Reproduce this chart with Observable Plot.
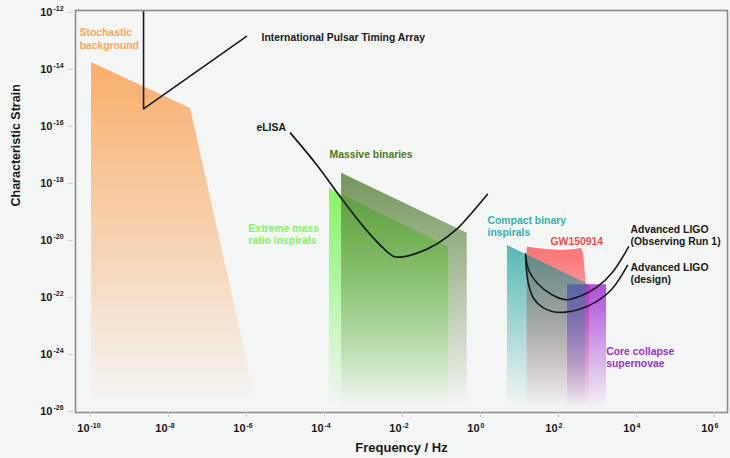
<!DOCTYPE html>
<html><head><meta charset="utf-8">
<script src="https://cdn.jsdelivr.net/npm/d3@7"></script>
<script src="https://cdn.jsdelivr.net/npm/@observablehq/plot@0.6"></script>
<style>
html,body{margin:0;padding:0;background:#f4f5f5;}
</style></head><body><div id="chart"></div>
<script>
// ---- data ----
const floorStrain = 1e-26;
const bgFreq = [1.06e-10, 3.66e-8, 2.03e-6];
const bgStrain = [1.76e-14, 4.28e-16, 1e-26];
const emriFreq = [1.34e-4, 0.154];
const emriStrain = [6.5e-19, 5.8e-21];
const mbFreq = [2.73e-4, 0.456];
const mbStrain = [2.3e-18, 1.8e-20];
const cbFreq = [4.9, 492];
const cbStrain = [6.7e-21, 3.2e-22];
const gwFreq = [15.7, 46.4, 124, 273, 389, 446, 507, 624];
const gwStrain = [5.8e-21, 4.83e-21, 4.46e-21, 4.83e-21, 5.37e-21, 2.98e-21, 3.36e-22, 2.43e-22];
const snFreq = [170, 1700];
const snStrain = [2.8e-22, 2.8e-22];

const iptaFreq = [2.29e-9, 2.29e-9, 1e-6];
const iptaStrain = [1e-11, 4.11e-16, 1.44e-13];
const elisaFreq = [1.34e-5, 6.5e-5, 2.57e-4, 1.02e-3, 3.32e-3, 5.98e-3, 8.89e-3, 0.0238, 0.0776, 0.253, 0.673, 1.49];
const elisaStrain = [5.82e-17, 4.29e-18, 3.3e-19, 2.93e-20, 5.12e-21, 2.75e-21, 2.6e-21, 3.58e-21, 7.66e-21, 2.58e-20, 1.13e-19, 4.11e-19];
const o1Freq = [14.3, 17.3, 29.0, 66.2, 160, 366, 942, 2425, 6237];
const o1Strain = [3.41e-21, 8.85e-22, 3.1e-22, 1.27e-22, 8.3e-23, 1.13e-22, 2.25e-22, 7.73e-22, 5.92e-21];
const designFreq = [14.3, 14.9, 17.3, 23.3, 38.2, 68.9, 151, 332, 889, 2382, 5875];
const designStrain = [2.98e-21, 1.02e-21, 2.64e-22, 9.0e-23, 4.57e-23, 3.23e-23, 3.05e-23, 3.79e-23, 6.84e-23, 2.02e-22, 1.33e-21];

const labelText = ["Stochastic\nbackground", "International Pulsar Timing Array", "eLISA", "Massive binaries",
  "Extreme mass\nratio inspirals", "Compact binary\ninspirals", "GW150914",
  "Advanced LIGO\n(Observing Run 1)", "Advanced LIGO\n(design)", "Core collapse\nsupernovae"];
const labelFreq = [5.22e-11, 2.43e-6, 1.8e-6, 1.34e-4, 1.12e-6, 1.51, 62.4, 7015, 7015, 1670];
const labelStrain = [1.21e-13, 1.33e-13, 9.2e-17, 1.04e-17, 1.66e-20, 3.15e-20, 9.2e-21, 1.56e-20, 7.13e-22, 7.9e-25];
const labelColor = ["#f8a55c", "#1a1a1a", "#1a1a1a", "#4e7a2b", "#86f25c", "#35b0aa", "#f24a4a", "#1a1a1a", "#1a1a1a", "#a12dd4"];

const xTicks = [1e-10, 1e-8, 1e-6, 1e-4, 1e-2, 1e0, 1e2, 1e4, 1e6];
const yTicks = [1e-26, 1e-24, 1e-22, 1e-20, 1e-18, 1e-16, 1e-14, 1e-12];
const xTitle = "Frequency / Hz";
const yTitle = "Characteristic Strain";

// gradient styles: id, colour, opacity at top
const gradients = [
  ["gOrange", "#f9ae6a", 1],
  ["gEmri", "#84f566", 1],
  ["gMb", "#537e33", 0.8],
  ["gRed", "#ff3c3c", 0.7],
  ["gPurple", "#9614d2", 0.75],
  ["gTeal", "#009891", 0.65]
];

// ---- build ----
const area = (fs, hs) => fs.map((f, i) => ({f, h: hs[i], b: floorStrain}));
const pts = (fs, hs) => fs.map((f, i) => ({f, h: hs[i]}));
const labels = labelText.map((t, i) => ({t, f: labelFreq[i], h: labelStrain[i], c: labelColor[i]}));
const exp10 = d => String(Math.round(Math.log10(d)));

function gradientDefs() {
  const ns = "http://www.w3.org/2000/svg";
  const defs = document.createElementNS(ns, "defs");
  for (const [id, color, op] of gradients) {
    const g = document.createElementNS(ns, "linearGradient");
    g.setAttribute("id", id);
    g.setAttribute("x1", "0"); g.setAttribute("x2", "0");
    g.setAttribute("y1", "0"); g.setAttribute("y2", "1");
    for (const [off, o] of [[0, op], [0.98, 0]]) {
      const s = document.createElementNS(ns, "stop");
      s.setAttribute("offset", off);
      s.setAttribute("stop-color", color);
      s.setAttribute("stop-opacity", o);
      g.appendChild(s);
    }
    defs.appendChild(g);
  }
  return defs;
}

const FONT = "'Liberation Sans', Arial, Helvetica, sans-serif";
const INK = "#1a1a1a";

const chart = Plot.plot({
  width: 730, height: 458,
  marginLeft: 75, marginRight: 3, marginTop: 10, marginBottom: 46,
  style: {background: "#f4f5f5", fontFamily: FONT},
  x: {type: "log", domain: [4.12e-11, 2.15e6], axis: null},
  y: {type: "log", domain: [9.2e-27, 1.17e-12], axis: null},
  color: {type: "identity"},
  marks: [
    gradientDefs,
    Plot.areaY(area(bgFreq, bgStrain), {x: "f", y1: "b", y2: "h", fill: "url(#gOrange)"}),
    Plot.areaY(area(emriFreq, emriStrain), {x: "f", y1: "b", y2: "h", fill: "url(#gEmri)"}),
    Plot.areaY(area(mbFreq, mbStrain), {x: "f", y1: "b", y2: "h", fill: "url(#gMb)"}),
    Plot.areaY(area(gwFreq, gwStrain), {x: "f", y1: "b", y2: "h", fill: "url(#gRed)"}),
    Plot.areaY(area(snFreq, snStrain), {x: "f", y1: "b", y2: "h", fill: "url(#gPurple)"}),
    Plot.areaY(area(cbFreq, cbStrain), {x: "f", y1: "b", y2: "h", fill: "url(#gTeal)"}),
    Plot.line(pts(iptaFreq, iptaStrain), {x: "f", y: "h", stroke: INK, strokeWidth: 1.6, clip: true}),
    Plot.line(pts(elisaFreq, elisaStrain), {x: "f", y: "h", stroke: INK, strokeWidth: 1.7, curve: "catmull-rom"}),
    Plot.line(pts(o1Freq, o1Strain), {x: "f", y: "h", stroke: INK, strokeWidth: 1.6, curve: "catmull-rom"}),
    Plot.line(pts(designFreq, designStrain), {x: "f", y: "h", stroke: INK, strokeWidth: 1.6, curve: "catmull-rom"}),
    Plot.frame({stroke: "#8c8c8c", strokeWidth: 1.6}),
    Plot.axisX({ticks: xTicks, tickSize: 5, tickFormat: () => "", stroke: "#c8c8c8", label: null}),
    Plot.axisY({ticks: yTicks, tickSize: 5, tickFormat: () => "", stroke: "#c8c8c8", label: null, dx: -2}),
    Plot.text(xTicks, {x: d => d, text: () => "10", frameAnchor: "bottom", textAnchor: "end", dy: 19, dx: -1,
      fontSize: 11, fontWeight: "bold", fill: INK}),
    Plot.text(xTicks, {x: d => d, text: exp10, frameAnchor: "bottom", textAnchor: "start", dy: 15, dx: 0,
      fontSize: 7, fontWeight: "bold", fill: INK}),
    Plot.text(yTicks, {y: d => d, text: () => "10", frameAnchor: "left", textAnchor: "end", dx: -23,
      fontSize: 11, fontWeight: "bold", fill: INK}),
    Plot.text(yTicks, {y: d => d, text: exp10, frameAnchor: "left", textAnchor: "start", dx: -22, dy: -4,
      fontSize: 7, fontWeight: "bold", fill: INK}),
    Plot.text([xTitle], {text: d => d, frameAnchor: "bottom", dy: 39, fontSize: 13, fontWeight: "bold", fill: INK}),
    Plot.text([yTitle], {text: d => d, frameAnchor: "left", dx: -60, dy: -5, rotate: -90, fontSize: 12.5, fontWeight: "bold", fill: INK}),
    Plot.text(labels, {x: "f", y: "h", text: "t", fill: "c", textAnchor: "start", fontSize: 10.4,
      fontWeight: "bold", lineHeight: 1.17})
  ]
});
document.getElementById("chart").appendChild(chart);
</script>
</body></html>
